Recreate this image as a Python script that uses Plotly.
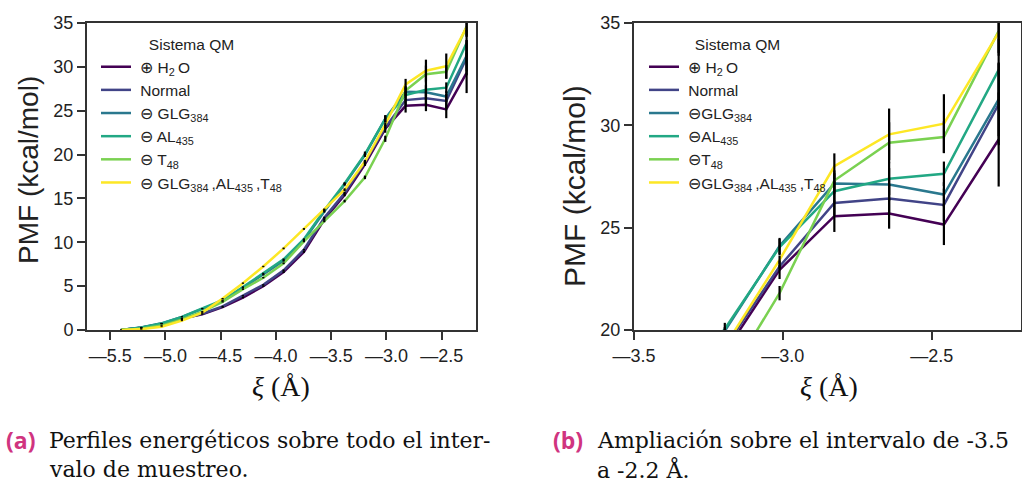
import plotly.graph_objects as go

W, H = 1022, 487

xi = [-5.403, -5.219, -5.035, -4.851, -4.667, -4.483, -4.299, -4.115, -3.931,
      -3.747, -3.563, -3.379, -3.195, -3.011, -2.827, -2.643, -2.459, -2.275]

h2o = [0.0, 0.25, 0.70, 1.30, 1.80, 2.60, 3.70, 5.00, 6.60, 8.90, 12.6, 15.4,
       18.9, 22.94, 25.56, 25.69, 25.15, 29.31]
normal = [0.0, 0.25, 0.70, 1.30, 1.85, 2.70, 3.90, 5.15, 6.80, 9.15, 12.8, 15.6,
          19.15, 23.10, 26.21, 26.42, 26.11, 31.03]
glg = [0.0, 0.30, 0.76, 1.50, 2.40, 3.30, 4.80, 6.30, 7.90, 10.2, 13.5, 16.6,
       19.95, 24.10, 27.16, 27.11, 26.62, 31.27]
al = [0.0, 0.30, 0.75, 1.50, 2.45, 3.40, 4.90, 6.45, 8.05, 10.35, 13.65, 16.7,
      20.05, 24.05, 26.78, 27.39, 27.63, 32.71]
t48 = [0.0, 0.15, 0.50, 1.20, 2.10, 3.20, 4.65, 5.96, 7.60, 10.1, 12.4, 14.7,
       17.4, 21.80, 27.30, 29.15, 29.43, 34.60]
comb = [0.0, 0.10, 0.38, 1.07, 1.98, 3.58, 5.34, 7.24, 9.30, 11.52, 13.73, 16.0,
        19.2, 23.43, 28.00, 29.56, 30.08, 34.54]

err_h2o = [0.02, 0.05, 0.05, 0.06, 0.06, 0.07, 0.08, 0.08, 0.1, 0.1, 0.12, 0.15, 0.2, 0.45, 0.77, 0.74, 1.0, 2.3]
err_normal = [0.02, 0.05, 0.05, 0.06, 0.06, 0.07, 0.08, 0.08, 0.1, 0.1, 0.12, 0.15, 0.2, 0.10, 0.6, 0.7, 0.8, 2.0]
err_glg = [0.02, 0.05, 0.05, 0.06, 0.06, 0.07, 0.08, 0.08, 0.1, 0.1, 0.12, 0.15, 0.2, 0.40, 0.5, 0.8, 0.6, 1.8]
err_al = [0.02, 0.05, 0.05, 0.06, 0.06, 0.07, 0.08, 0.08, 0.1, 0.1, 0.12, 0.15, 0.3, 0.40, 0.5, 0.8, 0.6, 1.5]
err_t48 = [0.02, 0.05, 0.05, 0.06, 0.06, 0.07, 0.08, 0.08, 0.1, 0.1, 0.12, 0.15, 0.2, 0.35, 0.5, 1.0, 0.77, 1.2]
err_comb = [0.02, 0.05, 0.05, 0.06, 0.06, 0.07, 0.08, 0.08, 0.1, 0.1, 0.12, 0.15, 0.2, 0.20, 0.63, 1.26, 1.44, 1.0]

names = ["\u2295 H<sub>2</sub>\u2009O", "Normal", "\u2296 GLG<sub>384</sub>",
         "\u2296 AL<sub>435</sub>", "\u2296 T<sub>48</sub>",
         "\u2296 GLG<sub>384</sub>\u2009,AL<sub>435</sub>\u2009,T<sub>48</sub>"]
names_b = ["\u2295 H<sub>2</sub>\u2009O", "Normal", "\u2296GLG<sub>384</sub>",
           "\u2296AL<sub>435</sub>", "\u2296T<sub>48</sub>",
           "\u2296GLG<sub>384</sub>\u2009,AL<sub>435</sub>\u2009,T<sub>48</sub>"]
colors = ["#440154", "#414487", "#2a788e", "#22a884", "#7ad151", "#fde725"]
series = [h2o, normal, glg, al, t48, comb]
errors = [err_h2o, err_normal, err_glg, err_al, err_t48, err_comb]

xt_a = [-5.5, -5.0, -4.5, -4.0, -3.5, -3.0, -2.5]
xt_b = [-3.5, -3.0, -2.5]
yt_a = [0, 5, 10, 15, 20, 25, 30, 35]
yt_b = [20, 25, 30, 35]


def lab(v):
    return "\u2014" + f"{abs(v):.1f}"


fig = go.Figure()
panels = [("x", "y", "legend", names), ("x2", "y2", "legend2", names_b)]
for xa, ya, lg, nm in panels:
    for s, c, n in zip(series, colors, nm):
        fig.add_trace(go.Scatter(x=xi, y=s, mode="lines", name="\u00a0" + n,
                                 line=dict(color=c, width=2.5),
                                 xaxis=xa, yaxis=ya, legend=lg))
for xa, ya, lg, nm in panels:
    for s, e in zip(series, errors):
        fig.add_trace(go.Scatter(x=xi, y=s, mode="markers", showlegend=False,
                                 marker=dict(size=1, color="rgba(0,0,0,0)"),
                                 error_y=dict(type="data", array=e, color="black",
                                              thickness=2.2, width=0),
                                 xaxis=xa, yaxis=ya, hoverinfo="skip"))

tickfont = dict(family="Liberation Sans", size=18, color="#222")
axline = dict(showline=True, linecolor="#333", linewidth=2, mirror=True,
              ticks="outside", ticklen=8, tickwidth=2, tickcolor="#333",
              showgrid=False, zeroline=False, tickfont=tickfont, automargin=False)

legfont = dict(family="Liberation Sans", size=15.5, color="#222")
ydom = [1 - 330 / H, 1 - 23 / H]
fig.update_layout(
    width=W, height=H, margin=dict(l=0, r=0, t=0, b=0, pad=0, autoexpand=False),
    paper_bgcolor="white", plot_bgcolor="white",
    xaxis=dict(domain=[87 / W, 476 / W], range=[-5.71, -2.19], anchor="y",
               tickvals=xt_a, ticktext=[lab(v) for v in xt_a], **axline),
    yaxis=dict(domain=ydom, range=[0, 35], anchor="x", tickvals=yt_a, **axline),
    xaxis2=dict(domain=[634 / W, 1021 / W], range=[-3.5, -2.2], anchor="y2",
                tickvals=xt_b, ticktext=[lab(v) for v in xt_b], **axline),
    yaxis2=dict(domain=ydom, range=[20, 35], anchor="x2", tickvals=yt_b, **axline),
    legend=dict(x=96 / W, y=1 - 30 / H, xanchor="left", yanchor="top",
                bgcolor="rgba(0,0,0,0)", font=legfont,
                title=dict(text="Sistema QM", side="top center", font=legfont)),
    legend2=dict(x=644 / W, y=1 - 30 / H, xanchor="left", yanchor="top",
                 bgcolor="rgba(0,0,0,0)", font=legfont,
                 title=dict(text="Sistema QM", side="top center", font=legfont)),
)


def ann(text, px, py, size, family, color="#111", xanchor="center", angle=0):
    fig.add_annotation(text=text, x=px / W, y=1 - py / H, xref="paper", yref="paper",
                       showarrow=False, xanchor=xanchor, yanchor="middle",
                       textangle=angle, font=dict(family=family, size=size, color=color))


ann("PMF (kcal/mol)", 29, 170, 28, "Liberation Sans", "#222", angle=-90)
ann("PMF (kcal/mol)", 574, 186, 30, "Liberation Sans", "#222", angle=-90)
ann("<i>\u03be</i> (\u00c5)", 281, 386, 28, "Liberation Serif")
ann("<i>\u03be</i> (\u00c5)", 829, 386, 28, "Liberation Serif")

mag = "#d0347f"
ann("<b>(a)</b>", 4, 440, 23, "Open Sans", mag, xanchor="left")
ann("Perfiles energéticos sobre todo el inter-", 47, 440, 22, "DejaVu Serif", xanchor="left")
ann("valo de muestreo.", 47, 469, 22, "DejaVu Serif", xanchor="left")
ann("<b>(b)</b>", 551, 440, 23, "Open Sans", mag, xanchor="left")
ann("Ampliación sobre el intervalo de -3.5", 595, 440, 22, "DejaVu Serif", xanchor="left")
ann("a -2.2 Å.", 595, 469, 22, "DejaVu Serif", xanchor="left")

fig.write_html("out.html")
